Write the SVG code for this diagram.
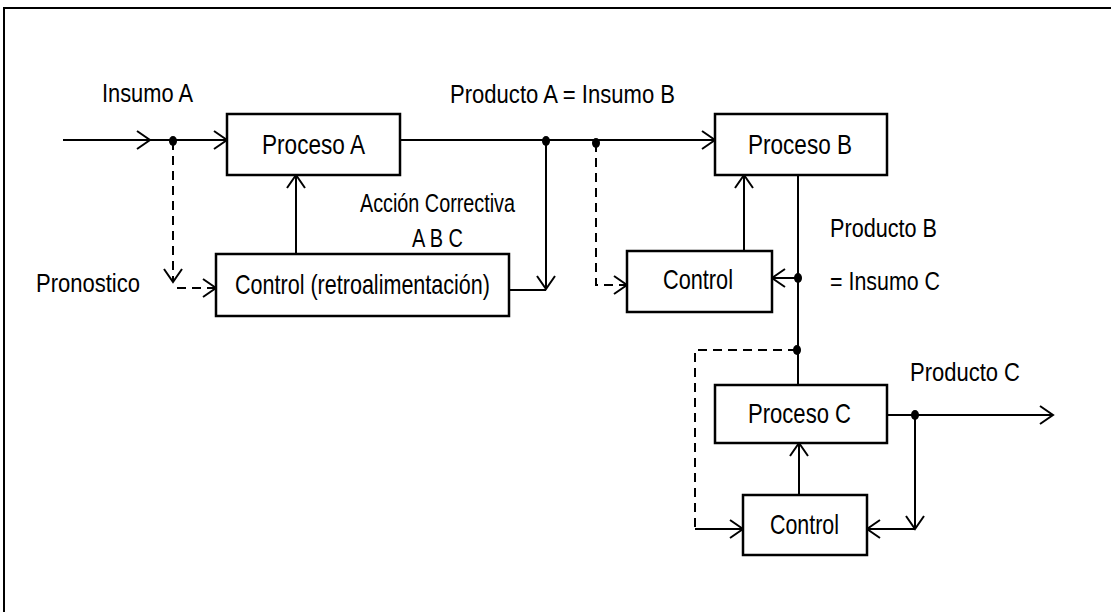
<svg xmlns="http://www.w3.org/2000/svg" width="1111" height="612" viewBox="0 0 1111 612">
<style>
  .box { fill: #fff; stroke: #000; stroke-width: 2.5; }
  .ln { fill: none; stroke: #000; stroke-width: 2; }
  .dash { fill: none; stroke: #000; stroke-width: 2; stroke-dasharray: 9 6; }
  .arr { marker-end: url(#ah); }
  .t { font-family: "Liberation Sans", Arial, sans-serif; fill: #000; }
  .bt { font-size: 28px; }
  .lt { font-size: 25px; }
  .dot { fill: #000; }
</style>
<defs>
  <marker id="ah" viewBox="-15 -11 17 22" refX="0" refY="0" markerWidth="17" markerHeight="22" markerUnits="userSpaceOnUse" orient="auto">
    <path d="M-13,-9 L0,0 L-13,9" fill="none" stroke="#000" stroke-width="2"/>
  </marker>
</defs>
<rect width="1111" height="612" fill="#fff"/>
<path d="M4,612 V8 H1111" fill="none" stroke="#000" stroke-width="2"/>

<g id="connectors">
  <path class="ln arr" d="M63,140 H150"/>
  <path class="ln arr" d="M150,140 H227"/>
  <path class="dash arr" d="M173,141 V282"/>
  <path class="dash arr" d="M177,288 H216"/>
  <path class="ln arr" d="M296,254 V175"/>
  <path class="ln arr" d="M400,140 H715"/>
  <path class="ln arr" d="M546,141 V289"/>
  <path class="ln" d="M509,290 H546"/>
  <path class="dash arr" d="M596,143 V285 H627"/>
  <path class="ln arr" d="M744,251 V175"/>
  <path class="ln" d="M798,175 V385"/>
  <path class="ln arr" d="M798,278 H772"/>
  <path class="dash" d="M797,350 H695 V529"/>
  <path class="ln arr" d="M695,529 H743"/>
  <path class="ln arr" d="M799,495 V443"/>
  <path class="ln arr" d="M887,415 H1053"/>
  <path class="ln arr" d="M915,415 V529"/>
  <path class="ln arr" d="M915,529 H867"/>
  <ellipse class="dot" cx="173" cy="141" rx="4" ry="5"/>
  <ellipse class="dot" cx="546" cy="141" rx="4" ry="5"/>
  <ellipse class="dot" cx="596" cy="143" rx="4" ry="5"/>
  <ellipse class="dot" cx="798" cy="278" rx="4" ry="5"/>
  <ellipse class="dot" cx="797" cy="350" rx="4" ry="5"/>
  <ellipse class="dot" cx="915" cy="415" rx="4" ry="5"/>
</g>

<g id="labels">
  <text class="t lt" x="102" y="102" textLength="91" lengthAdjust="spacingAndGlyphs">Insumo A</text>
  <text class="t lt" x="450" y="103" textLength="225" lengthAdjust="spacingAndGlyphs">Producto A = Insumo B</text>
  <text class="t lt" x="360" y="212" textLength="155" lengthAdjust="spacingAndGlyphs">Acción Correctiva</text>
  <text class="t lt" x="412" y="247" textLength="51" lengthAdjust="spacingAndGlyphs">A B C</text>
  <text class="t lt" x="36" y="292" textLength="104" lengthAdjust="spacingAndGlyphs">Pronostico</text>
  <text class="t lt" x="830" y="237" textLength="107" lengthAdjust="spacingAndGlyphs">Producto B</text>
  <text class="t lt" x="830" y="290" textLength="110" lengthAdjust="spacingAndGlyphs">= Insumo C</text>
  <text class="t" font-size="26" x="910" y="381" textLength="110" lengthAdjust="spacingAndGlyphs">Producto C</text>
</g>

<g id="proceso-a">
  <rect class="box" x="227" y="114" width="173" height="61"/>
  <text class="t bt" x="262" y="154" textLength="103" lengthAdjust="spacingAndGlyphs">Proceso A</text>
</g>
<g id="control-a">
  <rect class="box" x="216" y="254" width="293" height="62"/>
  <text class="t bt" x="235" y="294" textLength="255" lengthAdjust="spacingAndGlyphs">Control (retroalimentación)</text>
</g>
<g id="proceso-b">
  <rect class="box" x="715" y="114" width="172" height="61"/>
  <text class="t bt" x="748" y="154" textLength="104" lengthAdjust="spacingAndGlyphs">Proceso B</text>
</g>
<g id="control-b">
  <rect class="box" x="627" y="251" width="145" height="61"/>
  <text class="t bt" x="663" y="289" textLength="70" lengthAdjust="spacingAndGlyphs">Control</text>
</g>
<g id="proceso-c">
  <rect class="box" x="715" y="385" width="172" height="58"/>
  <text class="t bt" x="748" y="423" textLength="103" lengthAdjust="spacingAndGlyphs">Proceso C</text>
</g>
<g id="control-c">
  <rect class="box" x="743" y="495" width="124" height="60"/>
  <text class="t bt" x="770" y="534" textLength="69" lengthAdjust="spacingAndGlyphs">Control</text>
</g>
</svg>
